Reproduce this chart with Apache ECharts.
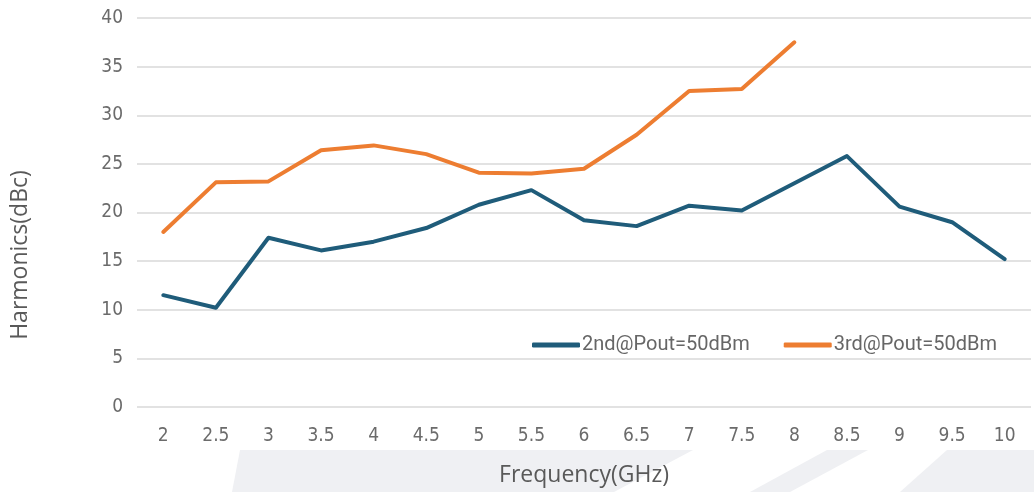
<!DOCTYPE html>
<html>
<head>
<meta charset="utf-8">
<script src="https://cdn.jsdelivr.net/npm/echarts@6/dist/echarts.min.js"></script>
<style>html,body{margin:0;padding:0;background:#fff;}#c{width:1034px;height:492px;}</style>
</head>
<body>
<div id="c"></div>
<script>
const categories = ['2','2.5','3','3.5','4','4.5','5','5.5','6','6.5','7','7.5','8','8.5','9','9.5','10'];
const second = [11.5,10.2,17.4,16.1,17.0,18.4,20.8,22.3,19.2,18.6,20.7,20.2,23.0,25.8,20.6,19.0,15.2];
const third = [18.0,23.1,23.2,26.4,26.9,26.0,24.1,24.0,24.5,28.0,32.5,32.7,37.5,null,null,null,null];
const seriesNames = ['2nd@Pout=50dBm','3rd@Pout=50dBm'];
const yTicks = {min:0, max:40, interval:5};

const chart = echarts.init(document.getElementById('c'));
const labelFont = '"Liberation Sans Narrow", "DejaVu Sans Condensed", "Roboto", sans-serif';
chart.setOption({
  animation:false,
  backgroundColor:'#ffffff',
  grid:{left:137,right:3,top:18,bottom:83},
  graphic:[
    {type:'polygon',z:-10,shape:{points:[[240,450],[693,450],[614,492],[232,492]]},style:{fill:'#eff0f3'}},
    {type:'polygon',z:-10,shape:{points:[[827,450],[868,450],[790,492],[750,492]]},style:{fill:'#eff0f3'}},
    {type:'polygon',z:-10,shape:{points:[[947,450],[1034,450],[1034,492],[900,492]]},style:{fill:'#eff0f3'}},
    {type:'text',x:20,y:255,rotation:Math.PI/2,style:{text:'Harmonics(dBc)',font:'23px "Open Sans", "Noto Sans", sans-serif',fill:'#595959',textAlign:'center',textVerticalAlign:'middle'}}
  ],
  legend:{
    left:527, top:330,
    itemWidth:48, itemHeight:5, itemGap:34,
    icon:'roundRect',
    textStyle:{fontSize:20,color:'#666666',fontFamily:'"Roboto", "Liberation Sans", sans-serif',padding:[0,0,0,-3]},
    data:seriesNames
  },
  xAxis:{
    type:'category', data:categories, boundaryGap:true,
    name:'Frequency(GHz)', nameLocation:'middle', nameGap:57,
    nameTextStyle:{fontSize:23,color:'#595959',fontFamily:'"Open Sans", "Noto Sans", sans-serif'},
    axisLine:{show:false}, axisTick:{show:false},
    axisLabel:{fontSize:19,color:'#6b6b6b',margin:20,fontFamily:labelFont}
  },
  yAxis:{
    type:'value', min:yTicks.min, max:yTicks.max, interval:yTicks.interval,
    axisLine:{show:false}, axisTick:{show:false},
    splitLine:{lineStyle:{color:'#d9d9d9',width:1.5}},
    axisLabel:{fontSize:19,color:'#6b6b6b',margin:14,fontFamily:labelFont}
  },
  series:[
    {name:seriesNames[0],type:'line',data:second,symbol:'none',lineStyle:{width:4,color:'#1f5c7a',cap:'round',join:'round'},itemStyle:{color:'#1f5c7a'}},
    {name:seriesNames[1],type:'line',data:third,symbol:'none',lineStyle:{width:4,color:'#ed7d31',cap:'round',join:'round'},itemStyle:{color:'#ed7d31'}}
  ]
});
</script>
</body>
</html>
